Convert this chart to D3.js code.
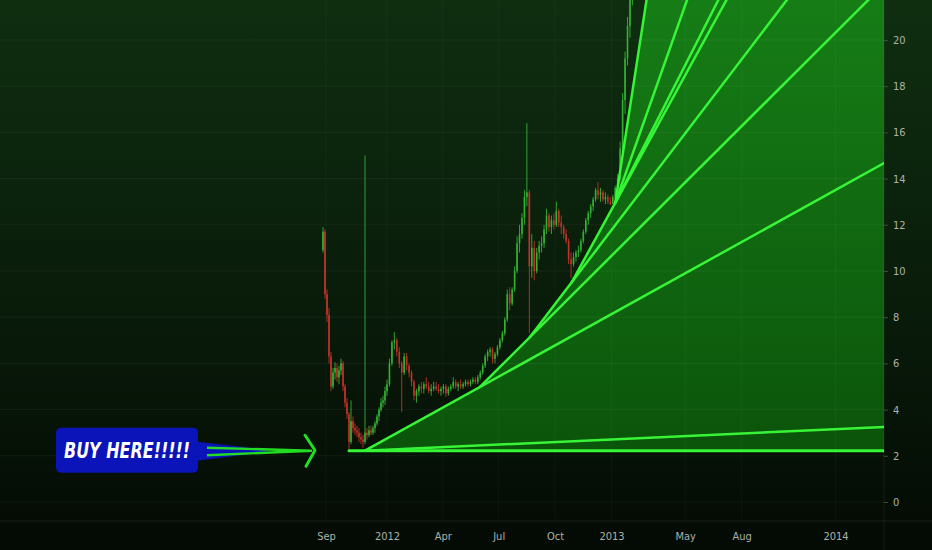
<!DOCTYPE html>
<html>
<head>
<meta charset="utf-8">
<script src="https://cdn.jsdelivr.net/npm/d3@7"></script>
<style>
  html, body { margin: 0; padding: 0; background: #050c05; overflow: hidden; }
  svg { display: block; }
  .tick text { fill: #aab2aa; font-family: "DejaVu Sans Condensed", "Liberation Sans Narrow", "DejaVu Sans", sans-serif; font-size: 11px; }
</style>
</head>
<body>
<div id="chart"></div>
<script>
// daily-ish candles, one every 4 days, starting late Aug 2011 (values in USD)
var startDate = new Date(2011, 7, 26);
var stepDays = 4;

var opens = [10.9, 11.7, 9.0, 8.1, 6.3, 5.0, 5.6, 5.8, 5.4, 5.7,
  6.0, 5.0, 4.3, 3.8, 2.6, 3.5, 3.2, 3.1, 3.0, 2.8,
  2.7, 2.6, 3.0, 2.9, 3.1, 3.0, 3.2, 3.4, 3.7, 4.0,
  4.3, 4.4, 4.8, 5.1, 6.0, 6.9, 7.0, 6.5, 6.0, 5.6,
  6.3, 5.9, 5.6, 5.2, 4.6, 4.8, 5.0, 4.9, 5.1, 5.0,
  4.8, 4.9, 5.0, 4.9, 4.8, 4.9, 5.0, 4.7, 4.9, 5.0,
  5.2, 5.0, 5.1, 5.0, 5.1, 5.2, 5.1, 5.2, 5.3, 5.2,
  5.4, 5.6, 5.9, 6.3, 6.5, 6.6, 6.2, 6.4, 6.7, 7.0,
  7.3, 7.9, 9.0, 8.6, 9.2, 10.0, 11.2, 11.6, 12.3, 13.2,
  13.4, 10.2, 11.0, 10.0, 10.8, 11.1, 11.2, 11.8, 12.4, 11.9,
  12.2, 12.0, 12.6, 12.1, 11.9, 11.6, 11.3, 10.5, 10.3, 10.6,
  10.8, 10.9, 11.3, 11.7, 12.2, 12.5, 12.8, 13.1, 13.5, 13.3,
  13.4, 13.1, 13.2, 13.0, 12.9, 13.2, 13.6, 14.0, 15.3, 17.4,
  19.2, 20.6, 22.2];

var highs = [11.9, 11.8, 9.2, 8.4, 6.5, 5.8, 6.05, 6.0, 5.9, 6.2,
  6.1, 5.1, 4.5, 3.9, 4.4, 3.7, 3.4, 3.3, 3.2, 3.0,
  2.9, 15.0, 3.2, 3.3, 3.3, 3.3, 3.5, 3.8, 4.1, 4.5,
  4.6, 5.0, 5.3, 6.2, 7.0, 7.35, 7.1, 6.7, 6.1, 6.45,
  6.45, 6.0, 5.7, 5.3, 4.9, 5.1, 5.2, 5.2, 5.4, 5.2,
  5.1, 5.2, 5.2, 5.1, 5.0, 5.1, 5.1, 5.0, 5.1, 5.4,
  5.3, 5.2, 5.3, 5.2, 5.3, 5.3, 5.3, 5.4, 5.4, 5.5,
  5.7, 6.0, 6.4, 6.6, 6.7, 6.7, 6.5, 6.8, 7.1, 7.4,
  8.0, 9.2, 9.3, 9.3, 10.2, 11.5, 12.0, 12.5, 13.5, 16.4,
  13.5, 11.6, 11.3, 11.0, 11.3, 11.5, 12.0, 12.7, 12.5, 12.4,
  12.5, 13.0, 12.7, 12.4, 12.0, 11.8, 11.4, 10.8, 10.8, 10.9,
  11.1, 11.4, 11.8, 12.3, 12.6, 12.9, 13.2, 13.6, 13.85, 13.6,
  13.5, 13.4, 13.3, 13.2, 13.3, 13.7, 14.2, 15.6, 17.7, 19.5,
  21.0, 22.6, 24.0];

var lows = [10.8, 8.8, 7.8, 6.0, 4.8, 4.9, 5.3, 5.2, 5.1, 5.5,
  4.8, 4.1, 3.6, 2.25, 2.5, 3.0, 2.9, 2.8, 2.6, 2.5,
  2.35, 2.5, 2.7, 2.8, 2.9, 2.9, 3.0, 3.3, 3.5, 3.9,
  4.1, 4.2, 4.6, 5.0, 5.9, 6.6, 6.3, 5.8, 3.9, 5.5,
  5.7, 5.4, 5.0, 4.4, 4.3, 4.6, 4.7, 4.7, 4.9, 4.7,
  4.6, 4.8, 4.8, 4.7, 4.6, 4.7, 4.55, 4.6, 4.8, 4.9,
  4.9, 4.8, 4.9, 4.9, 5.0, 5.0, 5.0, 5.1, 5.1, 5.1,
  5.3, 5.5, 5.8, 6.1, 6.3, 6.0, 6.0, 6.3, 6.6, 6.9,
  7.2, 7.8, 8.3, 8.5, 9.1, 9.9, 10.8, 11.4, 12.0, 12.8,
  7.3, 9.7, 9.6, 9.9, 10.5, 10.8, 11.0, 11.6, 11.7, 11.6,
  11.8, 11.9, 11.9, 11.6, 11.4, 11.2, 10.3, 9.7, 10.2, 10.4,
  10.6, 10.8, 11.2, 11.6, 12.0, 12.3, 12.6, 13.0, 13.1, 13.0,
  13.0, 12.9, 12.9, 12.85, 12.9, 13.1, 13.4, 13.9, 15.1, 16.8,
  18.9, 20.1, 21.5];

var closes = [11.7, 9.0, 8.1, 6.3, 5.0, 5.6, 5.8, 5.4, 5.7, 6.0,
  5.0, 4.3, 3.8, 2.6, 3.5, 3.2, 3.1, 3.0, 2.8, 2.7,
  2.6, 3.0, 2.9, 3.1, 3.0, 3.2, 3.4, 3.7, 4.0, 4.3,
  4.4, 4.8, 5.1, 6.0, 6.9, 7.0, 6.5, 6.0, 5.6, 6.3,
  5.9, 5.6, 5.2, 4.6, 4.8, 5.0, 4.9, 5.1, 5.0, 4.8,
  4.9, 5.0, 4.9, 4.8, 4.9, 5.0, 4.7, 4.9, 5.0, 5.2,
  5.0, 5.1, 5.0, 5.1, 5.2, 5.1, 5.2, 5.3, 5.2, 5.4,
  5.6, 5.9, 6.3, 6.5, 6.6, 6.2, 6.4, 6.7, 7.0, 7.3,
  7.9, 9.0, 8.6, 9.2, 10.0, 11.2, 11.6, 12.3, 13.2, 13.4,
  10.2, 11.0, 10.0, 10.8, 11.1, 11.2, 11.8, 12.4, 11.9, 12.2,
  12.0, 12.6, 12.1, 11.9, 11.6, 11.3, 10.5, 10.3, 10.6, 10.8,
  10.9, 11.3, 11.7, 12.2, 12.5, 12.8, 13.1, 13.5, 13.3, 13.4,
  13.1, 13.2, 13.0, 12.9, 13.2, 13.6, 14.0, 15.3, 17.4, 19.2,
  20.6, 22.2, 23.5];

var yTicks = [0, 2, 4, 6, 8, 10, 12, 14, 16, 18, 20];
var xTickDates = [new Date(2011, 8, 1), new Date(2012, 0, 1), new Date(2012, 3, 1),
  new Date(2012, 6, 1), new Date(2012, 9, 1), new Date(2013, 0, 1),
  new Date(2013, 4, 1), new Date(2013, 7, 1), new Date(2014, 0, 1)];
var xTickLabels = ["Sep", "2012", "Apr", "Jul", "Oct", "2013", "May", "Aug", "2014"];

// pivots of the fan (date, price)
var pivots = [
  [new Date(2011, 10, 18), 2.22],
  [new Date(2012, 4, 31), 4.97],
  [new Date(2012, 7, 21), 7.14],
  [new Date(2012, 9, 28), 9.51],
  [new Date(2013, 0, 7), 12.95]
];
var edgeDate = new Date(2014, 2, 21);
// each ray: start point, point it passes through
var rays = [
  [[new Date(2011, 9, 17), 2.22], [edgeDate, 2.22]],
  [pivots[0], [edgeDate, 3.25]],
  [pivots[0], pivots[1]],
  [pivots[1], pivots[2]],
  [pivots[2], pivots[3]],
  [pivots[3], pivots[4]],
  [pivots[4], [new Date(2013, 5, 24), 21.73]],
  [pivots[4], [new Date(2013, 4, 4), 21.73]],
  [pivots[4], [new Date(2013, 1, 27), 21.73]]
];
var calloutDate = new Date(2011, 7, 10);
var calloutValue = 2.22;

var width = 932, height = 550;
var plotRight = 884, plotBottom = 521;

var svg = d3.select("#chart").append("svg")
    .attr("width", width)
    .attr("height", height);

var defs = svg.append("defs");
var bg = defs.append("linearGradient").attr("id", "bg")
    .attr("x1", 0).attr("y1", 0).attr("x2", 0).attr("y2", 1);
bg.append("stop").attr("offset", "0%").attr("stop-color", "#0f2e10");
bg.append("stop").attr("offset", "55%").attr("stop-color", "#091c0a");
bg.append("stop").attr("offset", "100%").attr("stop-color", "#040a04");

var fanFill = defs.append("linearGradient").attr("id", "fanFill")
    .attr("gradientUnits", "userSpaceOnUse")
    .attr("x1", 0).attr("y1", 0).attr("x2", 0).attr("y2", 451);
fanFill.append("stop").attr("offset", "0%").attr("stop-color", "#167d16");
fanFill.append("stop").attr("offset", "100%").attr("stop-color", "#0b540b");

defs.append("clipPath").attr("id", "plotClip")
  .append("rect").attr("x", 0).attr("y", 0).attr("width", plotRight).attr("height", plotBottom);

svg.append("rect").attr("width", width).attr("height", height).attr("fill", "url(#bg)");

var x = d3.scaleTime()
    .domain([new Date(2011, 8, 1), new Date(2012, 0, 1), new Date(2014, 0, 1)])
    .range([326, 387, 835.5]);

var y = d3.scaleLinear()
    .domain([0, 20])
    .range([502, 40]);

var candles = closes.map(function(c, i) {
  return {
    date: d3.timeDay.offset(startDate, i * stepDays),
    open: opens[i], high: highs[i], low: lows[i], close: c
  };
});

var plot = svg.append("g").attr("clip-path", "url(#plotClip)");

// fan fill: below the upper edge of the fan, above the base line
function pt(p) { return [x(p[0]), y(p[1])]; }
function extend(a, b, k) {
  return [a[0] + (b[0] - a[0]) * k, a[1] + (b[1] - a[1]) * k];
}
var lastRay = rays[rays.length - 1];
var farTop = extend(pt(lastRay[0]), pt(lastRay[1]), 40);
var fillPts = pivots.map(pt);
fillPts.push(farTop);
fillPts.push([farTop[0], y(pivots[0][1])]);

plot.append("path")
    .attr("d", d3.line()(fillPts) + "Z")
    .attr("fill", "url(#fanFill)");

// grid
var grid = svg.append("g").attr("clip-path", "url(#plotClip)");
grid.selectAll("line.h").data(yTicks).enter().append("line")
    .attr("x1", 0).attr("x2", plotRight)
    .attr("y1", function(d) { return y(d); })
    .attr("y2", function(d) { return y(d); })
    .attr("stroke", "#ffffff").attr("stroke-opacity", 0.05);
grid.selectAll("line.v").data(xTickDates).enter().append("line")
    .attr("y1", 0).attr("y2", plotBottom)
    .attr("x1", function(d) { return x(d); })
    .attr("x2", function(d) { return x(d); })
    .attr("stroke", "#ffffff").attr("stroke-opacity", 0.035);

// candles
var upColor = "#33b133", downColor = "#c2322a";
var cg = plot.append("g");
var candle = cg.selectAll("g").data(candles).enter().append("g");
candle.append("line")
    .attr("x1", function(d) { return x(d.date); })
    .attr("x2", function(d) { return x(d.date); })
    .attr("y1", function(d) { return y(d.high); })
    .attr("y2", function(d) { return y(d.low); })
    .attr("stroke", function(d) { return d.close >= d.open ? upColor : downColor; })
    .attr("stroke-width", 0.9);
candle.append("rect")
    .attr("x", function(d) { return x(d.date) - 0.8; })
    .attr("width", 1.6)
    .attr("y", function(d) { return y(Math.max(d.open, d.close)); })
    .attr("height", function(d) { return Math.max(0.8, Math.abs(y(d.open) - y(d.close))); })
    .attr("fill", function(d) { return d.close >= d.open ? upColor : downColor; });

// fan lines
plot.selectAll("line.ray").data(rays).enter().append("line")
    .attr("class", "ray")
    .each(function(r, i) {
      var a = pt(r[0]), b = extend(a, pt(r[1]), 40);
      d3.select(this)
        .attr("x1", a[0]).attr("y1", a[1])
        .attr("x2", b[0]).attr("y2", b[1])
        .attr("stroke-width", i === 0 ? 3 : 2.5);
    })
    .attr("stroke", "#36f536")
    .attr("stroke-linecap", "round");

// axes
var yAxis = d3.axisRight(y).tickValues(yTicks).tickSize(4).tickPadding(5);
var yg = svg.append("g").attr("transform", "translate(" + plotRight + ",0)").call(yAxis);
yg.select(".domain").remove();
yg.selectAll(".tick line").attr("stroke", "#3a4a3a");

var xAxis = d3.axisBottom(x).tickValues(xTickDates).tickSize(0).tickPadding(11)
    .tickFormat(function(d, i) { return xTickLabels[i]; });
var xg = svg.append("g").attr("transform", "translate(0," + plotBottom + ")").call(xAxis);
xg.select(".domain").remove();

svg.append("line").attr("x1", 0).attr("x2", width)
    .attr("y1", plotBottom).attr("y2", plotBottom)
    .attr("stroke", "#ffffff").attr("stroke-opacity", 0.07);
svg.append("line").attr("x1", plotRight).attr("x2", plotRight)
    .attr("y1", 0).attr("y2", height)
    .attr("stroke", "#ffffff").attr("stroke-opacity", 0.07);

// BUY HERE callout, anchored at its arrow tip
var tx = x(calloutDate), ty = y(calloutValue);
var callout = svg.append("g").attr("transform", "translate(" + tx + "," + ty + ")");
callout.append("path")
    .attr("d", "M-118,-9 L-48,-1 L-48,1 L-118,10 Z")
    .attr("fill", "#0b14b8");
callout.append("rect")
    .attr("x", -259).attr("y", -23).attr("width", 142).attr("height", 45).attr("rx", 5)
    .attr("fill", "#0b14b8");
callout.append("text")
    .attr("x", -251).attr("y", 7.5)
    .attr("textLength", 126).attr("lengthAdjust", "spacingAndGlyphs")
    .attr("fill", "#ffffff")
    .style("font-family", "'Liberation Sans Narrow', 'DejaVu Sans Condensed', 'DejaVu Sans', sans-serif")
    .style("font-weight", "bold").style("font-style", "italic").style("font-size", "22px")
    .text("BUY HERE!!!!!");
callout.append("path")
    .attr("d", "M-108,-3 L-3,0 M-108,4.5 L-3,0")
    .attr("stroke", "#22dd22").attr("stroke-width", 2.4).attr("fill", "none");
callout.append("path")
    .attr("d", "M-10,-15.5 L0,-0.5 L-9,15.5")
    .attr("stroke", "#22dd22").attr("stroke-width", 3).attr("fill", "none")
    .attr("stroke-linecap", "round").attr("stroke-linejoin", "round");
</script>
</body>
</html>
